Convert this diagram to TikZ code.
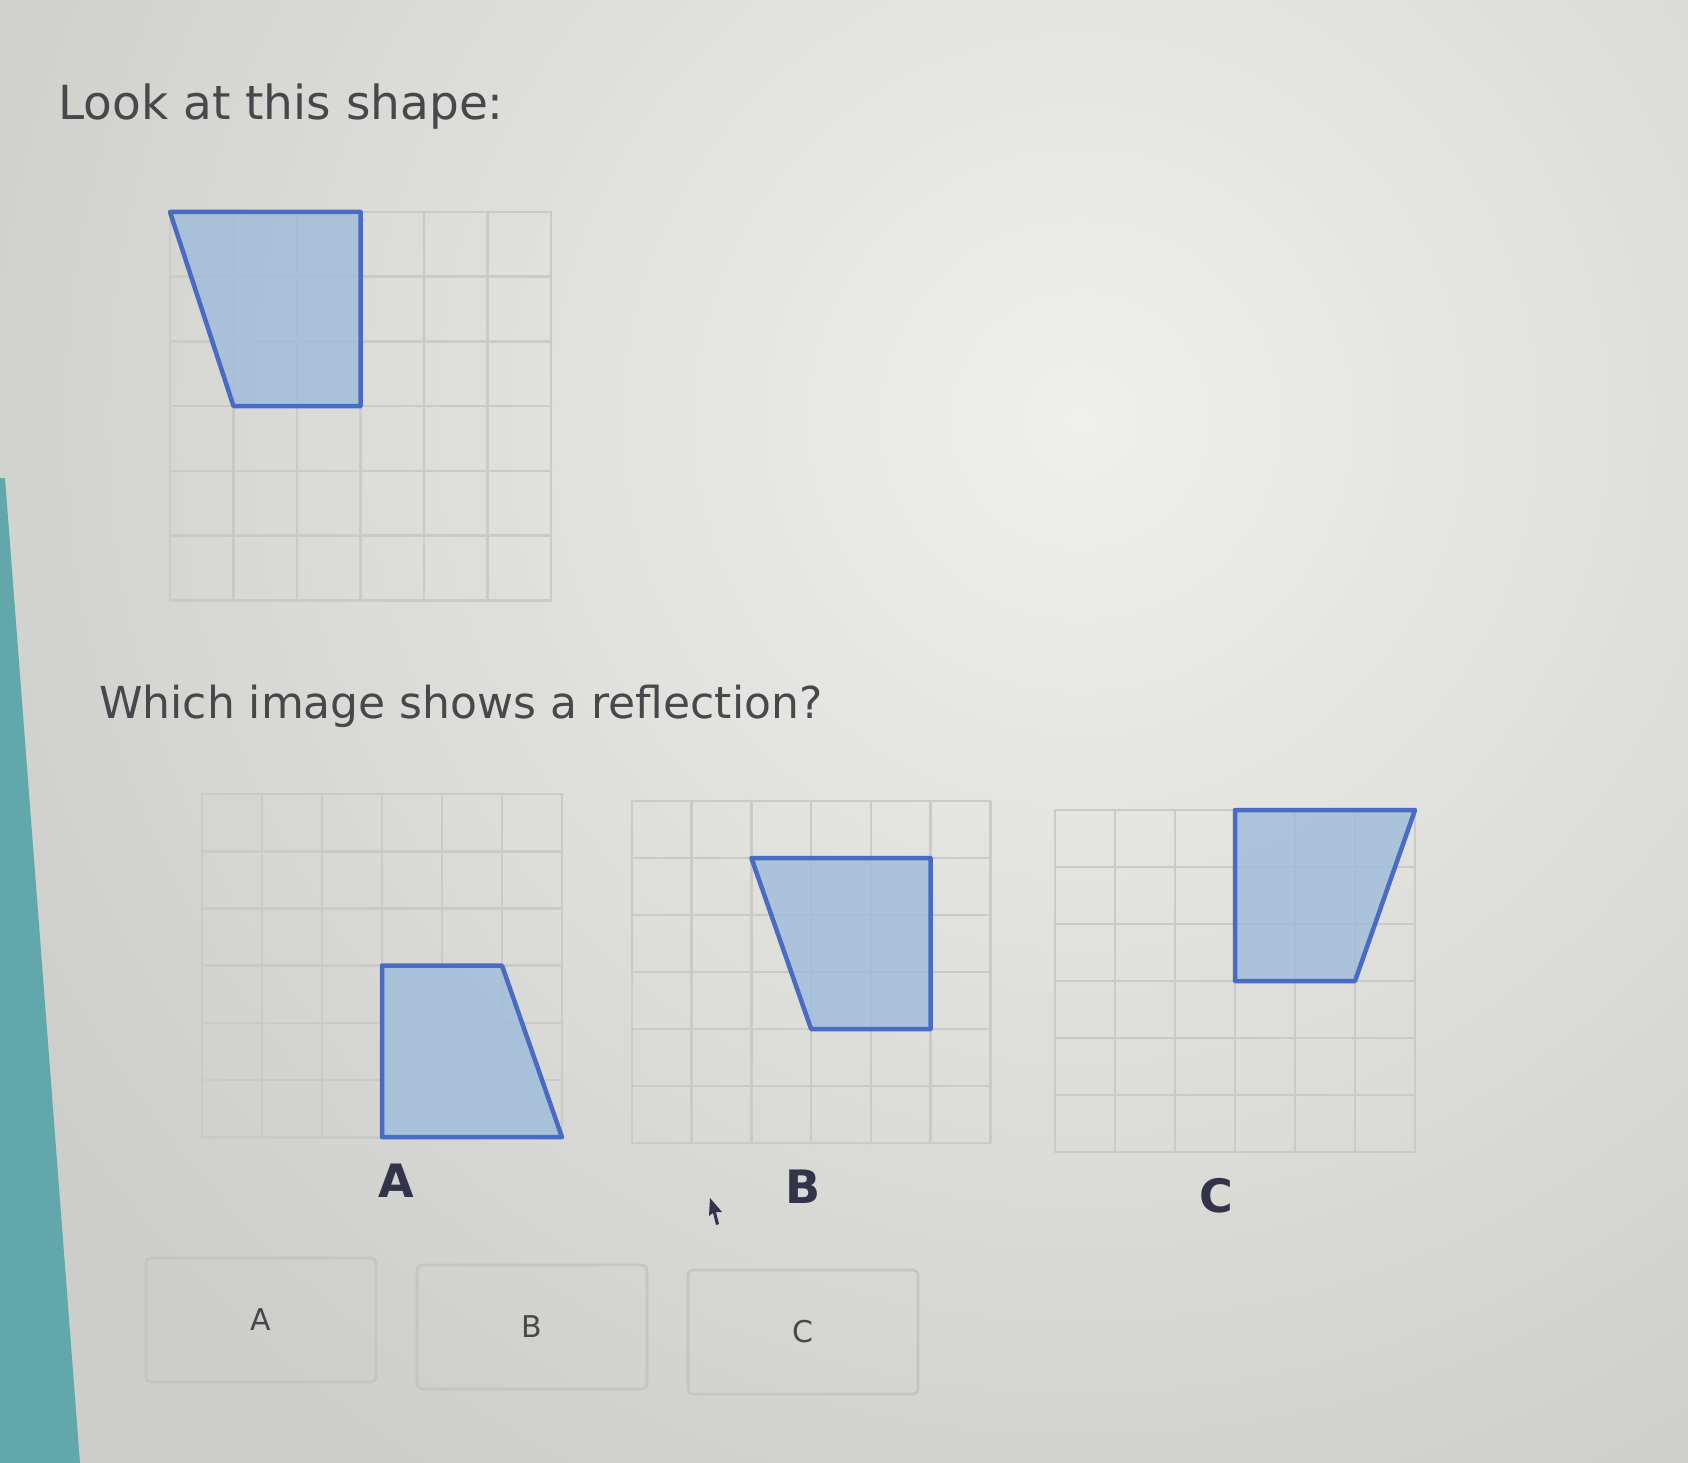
\documentclass[tikz,border=0pt]{standalone}
\usepackage{fontspec}
\setmainfont{DejaVu Sans}
\definecolor{bgDark}{HTML}{CDCDC9}
\definecolor{bgLight}{HTML}{EFEFED}
\definecolor{gridc}{HTML}{CACAC6}
\definecolor{shapefill}{HTML}{9DBBDA}
\definecolor{shapeline}{HTML}{4A6BC4}
\definecolor{txt}{HTML}{48484C}
\definecolor{lab}{HTML}{33334A}
\definecolor{teal}{HTML}{62A8AA}
\definecolor{btnline}{HTML}{C4C6C2}
\tikzset{
  gridlines/.style={draw=gridc, line width=2.6pt, line cap=round},
  trap/.style={fill=shapefill, fill opacity=0.8, draw=shapeline, draw opacity=1, line width=4.5pt, line join=round},
  question/.style={anchor=base west, text=txt, inner sep=0pt, font=\fontsize{47}{56}\selectfont},
  biglabel/.style={text=lab, inner sep=0pt, font=\fontsize{46}{54}\selectfont\bfseries},
  button/.style={draw=btnline, line width=2.6pt, rounded corners=5pt, minimum width=230pt, minimum height=124pt, inner sep=0pt, text=txt, font=\fontsize{30}{36}\selectfont},
}
\newcommand{\sixgrid}{%
  \foreach \k in {0,...,6} {
    \draw[gridlines] (\k,0) -- (\k,6);
    \draw[gridlines] (0,\k) -- (6,\k);
  }}
\begin{document}
\begin{tikzpicture}[x=1pt, y=-1pt]
\useasboundingbox (0,0) rectangle (1688,1463);
% background
\begin{scope}
\clip (0,0) rectangle (1688,1463);
\fill[bgDark] (0,0) rectangle (1688,1463);
\shade[inner color=bgLight, outer color=bgDark] (1080,420) circle (1250);
\fill[teal] (0,478) -- (5,478) -- (80,1463) -- (0,1463) -- cycle;
\end{scope}

% texts
\node[question] (q1) at (58,120) {Look at this shape:};
\node[question, font=\fontsize{44}{52}\selectfont] (q2) at (99,718) {Which image shows a reflection?};

% main grid
\begin{scope}[shift={(170,212)}, x=63.5pt, y=-64.7pt]
  \sixgrid
  \draw[trap] (0,0) -- (3,0) -- (3,3) -- (1,3) -- cycle;
\end{scope}

% grid A
\begin{scope}[shift={(202,794)}, x=60pt, y=-57.2pt]
  \sixgrid
  \draw[trap] (3,3) -- (5,3) -- (6,6) -- (3,6) -- cycle;
\end{scope}

% grid B
\begin{scope}[shift={(632,801)}, x=59.7pt, y=-57pt]
  \sixgrid
  \draw[trap] (2,1) -- (5,1) -- (5,4) -- (3,4) -- cycle;
\end{scope}

% grid C
\begin{scope}[shift={(1055,810)}, x=60pt, y=-57pt]
  \sixgrid
  \draw[trap] (3,0) -- (6,0) -- (5,3) -- (3,3) -- cycle;
\end{scope}

% option labels
\node[biglabel] (la) at (396,1181) {A};
\node[biglabel] (lb) at (803,1187) {B};
\node[biglabel] (lc) at (1216,1196) {C};

% cursor
\fill[lab] (710,1198) -- (722,1212) -- (716,1212) -- (719,1224) -- (716,1225) -- (713,1213) -- (709,1216) -- cycle;

% buttons
\node[button] (ba) at (261,1320) {A};
\node[button] (bb) at (532,1327) {B};
\node[button] (bc) at (803,1332) {C};
\end{tikzpicture}
\end{document}
